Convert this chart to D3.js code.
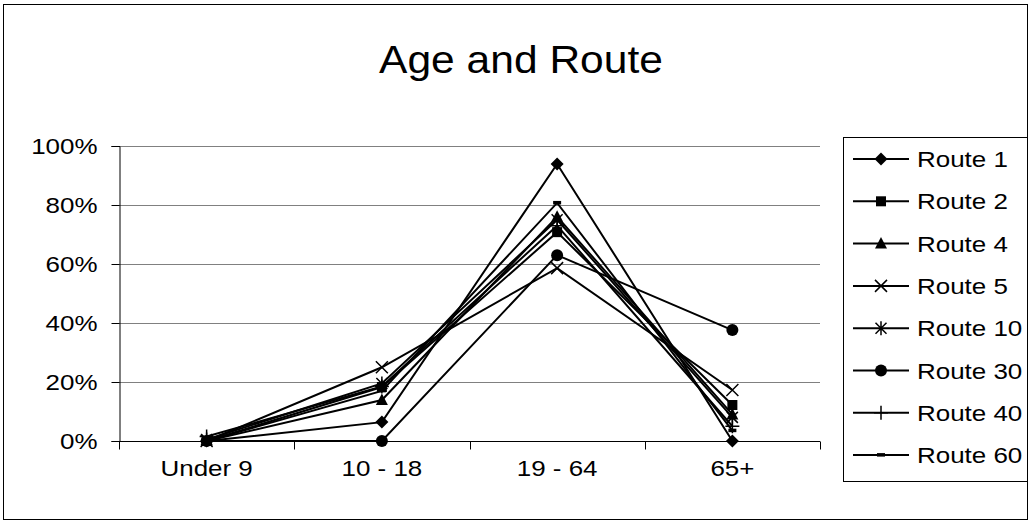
<!DOCTYPE html>
<html>
<head>
<meta charset="utf-8">
<script src="https://cdn.jsdelivr.net/npm/d3@7"></script>
<style>
  body { margin: 0; background: #fff; }
  svg { display: block; font-family: "Liberation Sans", Arial, sans-serif; }
</style>
</head>
<body>
<div id="chart"></div>
<script>
// Age groups on the x axis
const categories = ["Under 9", "10 - 18", "19 - 64", "65+"];

// Share of riders per age group (percent), one array per route
const route1 = [0, 6.4, 93.9, 0];
const route2 = [0, 18.3, 70.8, 12.2];
const route4 = [0, 13.9, 76, 9];
const route5 = [0, 25, 58.6, 17.3];
const route10 = [0.5, 19.5, 75, 8];
const route30 = [0, 0, 63, 37.6];
const route40 = [1.5, 18.5, 73, 5];
const route60 = [0, 17, 80.7, 3.5];

const routeNames = ["Route 1", "Route 2", "Route 4", "Route 5", "Route 10", "Route 30", "Route 40", "Route 60"];
const routeValues = [route1, route2, route4, route5, route10, route30, route40, route60];
const yTicks = [0, 20, 40, 60, 80, 100];

const series = routeNames.map((name, i) => ({ name, values: routeValues[i], idx: i }));

const width = 1031, height = 524;
const margin = { top: 146, right: 211, bottom: 83, left: 119 };
const plotW = width - margin.left - margin.right;
const plotH = height - margin.top - margin.bottom;

// the original text is drawn a bit wider than normal
const SX = 1.18;

const svg = d3.select("#chart").append("svg")
    .attr("width", width)
    .attr("height", height);

// outer chart border
svg.append("rect")
    .attr("x", 3.5).attr("y", 4.5)
    .attr("width", 1024).attr("height", 515)
    .attr("fill", "none")
    .attr("stroke", "#000")
    .attr("stroke-width", 1);

svg.append("text")
    .attr("transform", "translate(521,73) scale(1.12,1)")
    .attr("text-anchor", "middle")
    .style("font-size", "38px")
    .text("Age and Route");

const g = svg.append("g")
    .attr("transform", `translate(${margin.left},${margin.top})`);

const x = d3.scaleBand()
    .domain(categories)
    .range([0, plotW]);

const y = d3.scaleLinear()
    .domain([0, 100])
    .range([plotH, 0]);

// grid lines
g.append("g")
    .selectAll("line")
    .data(yTicks.slice(1))
    .enter()
    .append("line")
    .attr("x1", 0).attr("x2", plotW)
    .attr("y1", d => Math.round(y(d)) + 0.5)
    .attr("y2", d => Math.round(y(d)) + 0.5)
    .attr("stroke", "#808080")
    .attr("stroke-width", 1);

// y axis
const yAxis = g.append("g")
    .attr("transform", "translate(0.5,0)")
    .call(d3.axisLeft(y).tickValues(yTicks).tickSize(8).tickFormat(d => d + "%"));
yAxis.selectAll("text")
    .style("font-size", "22px")
    .attr("fill", "#000")
    .attr("x", -22 / SX)
    .attr("transform", `scale(${SX},1)`);
yAxis.selectAll(".domain, .tick line").attr("stroke", "#000");

// x axis: ticks at category boundaries
const xAxisG = g.append("g")
    .attr("transform", `translate(0,${Math.round(plotH) + 0.5})`);
xAxisG.append("line")
    .attr("x1", 0).attr("x2", plotW)
    .attr("stroke", "#000");
const bounds = categories.map(c => x(c)).concat([plotW]);
xAxisG.selectAll(".xt")
    .data(bounds)
    .enter()
    .append("line")
    .attr("x1", d => Math.round(d) + 0.5).attr("x2", d => Math.round(d) + 0.5)
    .attr("y1", 0).attr("y2", 8)
    .attr("stroke", "#000");
xAxisG.selectAll(".xl")
    .data(categories)
    .enter()
    .append("text")
    .attr("transform", d => `translate(${x(d) + x.bandwidth() / 2},34) scale(${SX},1)`)
    .attr("text-anchor", "middle")
    .style("font-size", "22px")
    .text(d => d);

// marker shapes
function drawMarker(sel, idx) {
    const k = "#000";
    switch (idx) {
        case 0: sel.append("path").attr("d", "M0,-6.5L6.5,0L0,6.5L-6.5,0Z").attr("fill", k); break;
        case 1: sel.append("rect").attr("x", -5).attr("y", -5).attr("width", 10).attr("height", 10).attr("fill", k); break;
        case 2: sel.append("path").attr("d", "M0,-6.5L6,5L-6,5Z").attr("fill", k); break;
        case 3: sel.append("path").attr("d", "M-6,-6L6,6M-6,6L6,-6").attr("stroke", k).attr("stroke-width", 1.5); break;
        case 4: sel.append("path").attr("d", "M-5.5,-5.5L5.5,5.5M-5.5,5.5L5.5,-5.5M0,-7L0,7").attr("stroke", k).attr("stroke-width", 1.5); break;
        case 5: sel.append("circle").attr("r", 6).attr("fill", k); break;
        case 6: sel.append("path").attr("d", "M-7,0L7,0M0,-7L0,7").attr("stroke", k).attr("stroke-width", 1.5); break;
        case 7: sel.append("rect").attr("x", -4).attr("y", -2).attr("width", 8).attr("height", 3.5).attr("fill", k); break;
    }
}

const line = d3.line()
    .x((d, i) => x(categories[i]) + x.bandwidth() / 2)
    .y(d => y(d));

const routeG = g.selectAll(".route")
    .data(series)
    .enter()
    .append("g")
    .attr("class", "route");

routeG.append("path")
    .attr("d", d => line(d.values))
    .attr("fill", "none")
    .attr("stroke", "#000")
    .attr("stroke-width", 2);

routeG.each(function(s) {
    d3.select(this).selectAll(".pt")
        .data(s.values)
        .enter()
        .append("g")
        .attr("transform", (d, i) => `translate(${x(categories[i]) + x.bandwidth() / 2},${y(d)})`)
        .each(function() { drawMarker(d3.select(this), s.idx); });
});

// legend
const legend = svg.append("g");
legend.append("rect")
    .attr("x", 843.5).attr("y", 137.5)
    .attr("width", 184).attr("height", 344)
    .attr("fill", "#fff")
    .attr("stroke", "#000");

const items = legend.selectAll(".item")
    .data(series)
    .enter()
    .append("g")
    .attr("transform", (d, i) => `translate(853,${159 + i * 42.3})`);

items.append("line")
    .attr("x1", 0).attr("x2", 56)
    .attr("stroke", "#000")
    .attr("stroke-width", 2);
items.append("g")
    .attr("transform", "translate(28,0)")
    .each(function(d) { drawMarker(d3.select(this), d.idx); });
items.append("text")
    .attr("transform", `translate(64,8) scale(${SX},1)`)
    .style("font-size", "22px")
    .text(d => d.name);
</script>
</body>
</html>
